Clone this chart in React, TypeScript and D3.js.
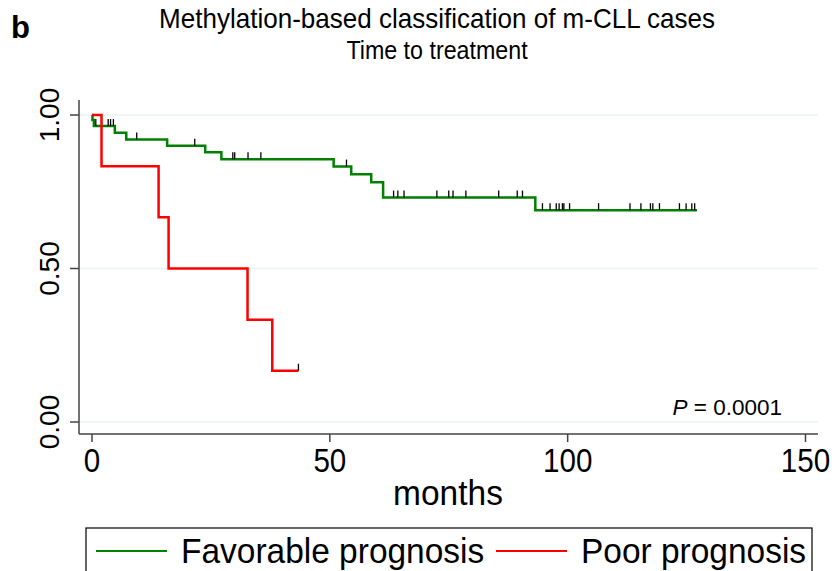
import React from "react";
import { scaleLinear, line, curveStepAfter } from "d3";

// Kaplan-Meier steps
const favorableTimes = [0, 0.1, 0.4, 4.8, 7.2, 15.8, 23.8, 27.2, 50.8, 54.5, 58.7, 61.2, 93.2];
const favorableSurv = [1, 0.984, 0.964, 0.942, 0.92, 0.9, 0.879, 0.856, 0.832, 0.807, 0.781, 0.731, 0.69];
const favorableEnd = 127.2;
const favorableCensored = [
  0.8, 3.4, 3.9, 4.5, 9.4, 21.6, 29.6, 30.0, 32.8, 35.5, 53.5, 63.4, 64.3, 65.6,
  72.5, 75.0, 75.9, 78.6, 85.5, 89.4, 90.5, 94.7, 96.3, 97.6, 98.2, 98.9, 99.2,
  100.4, 106.5, 113.1, 115.4, 117.4, 117.9, 119.3, 123.5, 124.9, 126.1, 126.7,
];

const poorTimes = [0, 2, 14, 16.1, 32.7, 37.9];
const poorSurv = [1, 0.833, 0.667, 0.5, 0.333, 0.167];
const poorEnd = 43.4;
const poorCensored = [43.4];

const xTicks = [0, 50, 100, 150];
const yTicks = [0, 0.5, 1];
const yTickLabels = ["0.00", "0.50", "1.00"];

const series = [
  { name: "Favorable prognosis", color: "#008000", times: favorableTimes, surv: favorableSurv, end: favorableEnd, censored: favorableCensored },
  { name: "Poor prognosis", color: "#ff0000", times: poorTimes, surv: poorSurv, end: poorEnd, censored: poorCensored },
];

const font = "'Liberation Sans', Arial, Helvetica, sans-serif";

// Stata-like narrow text
function Narrow({ x, y, size, anchor = "middle", sx = 0.8, children, style }: any) {
  return (
    <text
      transform={`translate(${x},${y}) scale(${sx},1)`}
      fontSize={size}
      textAnchor={anchor}
      fontFamily={font}
      style={style}
    >
      {children}
    </text>
  );
}

export default function App() {
  const width = 832;
  const height = 571;
  const plot = { left: 79, right: 818, top: 100, bottom: 434 };

  const x = scaleLinear().domain([0, 150]).range([92, 805.5]);
  const y = scaleLinear().domain([0, 1]).range([422, 115]);

  const stepAt = (times: number[], surv: number[], t: number) => {
    let s = surv[0];
    times.forEach((tt, i) => {
      if (tt <= t) s = surv[i];
    });
    return s;
  };

  const path = line<[number, number]>()
    .x((d) => x(d[0]))
    .y((d) => y(d[1]))
    .curve(curveStepAfter);

  return (
    <svg width={width} height={height} style={{ position: "absolute", left: 0, top: 0 }}>
      <rect width={width} height={height} fill="#fff" />
      <text x={11} y={38} fontSize={31} fontWeight="bold" fontFamily={font}>
        b
      </text>
      <Narrow x={437} y={28} size={28} sx={0.93}>
        Methylation-based classification of m-CLL cases
      </Narrow>
      <Narrow x={437} y={59} size={25} sx={0.93}>
        Time to treatment
      </Narrow>

      {/* grid */}
      {yTicks.map((t) => (
        <line key={t} x1={plot.left + 1} x2={plot.right} y1={y(t)} y2={y(t)} stroke="#eaf2f3" strokeWidth={1.5} />
      ))}

      {/* axes */}
      <line x1={plot.left} x2={plot.left} y1={plot.top} y2={plot.bottom} stroke="#444" strokeWidth={1.5} />
      <line x1={plot.left} x2={plot.right} y1={plot.bottom} y2={plot.bottom} stroke="#444" strokeWidth={1.5} />
      {yTicks.map((t, i) => (
        <g key={t}>
          <line x1={plot.left - 9} x2={plot.left} y1={y(t)} y2={y(t)} stroke="#444" strokeWidth={1.5} />
          <text
            transform={`translate(59,${y(t)}) rotate(-90)`}
            fontSize={28}
            textAnchor="middle"
            fontFamily={font}
          >
            {yTickLabels[i]}
          </text>
        </g>
      ))}
      {xTicks.map((t) => (
        <g key={t}>
          <line x1={x(t)} x2={x(t)} y1={plot.bottom} y2={plot.bottom + 8} stroke="#444" strokeWidth={1.5} />
          <Narrow x={x(t)} y={472} size={34} sx={0.87}>
            {t}
          </Narrow>
        </g>
      ))}
      <Narrow x={448} y={505} size={36} sx={0.93}>
        months
      </Narrow>

      {/* curves */}
      {series.map((s) => {
        const pts: [number, number][] = s.times.map((t, i) => [t, s.surv[i]]);
        pts.push([s.end, s.surv[s.surv.length - 1]]);
        return (
          <g key={s.name}>
            <path d={path(pts) ?? ""} fill="none" stroke={s.color} strokeWidth={2.5} />
            {s.censored.map((c, i) => {
              const v = stepAt(s.times, s.surv, c);
              return (
                <line key={i} x1={x(c)} x2={x(c)} y1={y(v)} y2={y(v) - 7} stroke="#000" strokeWidth={1.3} />
              );
            })}
          </g>
        );
      })}

      <text x={782} y={415} fontSize={22.5} textAnchor="end" fontFamily={font}>
        <tspan fontStyle="italic">P</tspan> = 0.0001
      </text>

      {/* legend */}
      <rect x={86} y={528} width={726} height={60} fill="none" stroke="#000" strokeWidth={1.2} />
      {series.map((s, i) => {
        const lx = i === 0 ? 96 : 496;
        return (
          <g key={s.name}>
            <line x1={lx} x2={lx + 71} y1={551} y2={551} stroke={s.color} strokeWidth={1.8} />
            <Narrow x={lx + 85} y={563} size={36} anchor="start" sx={0.93}>
              {s.name}
            </Narrow>
          </g>
        );
      })}
    </svg>
  );
}
